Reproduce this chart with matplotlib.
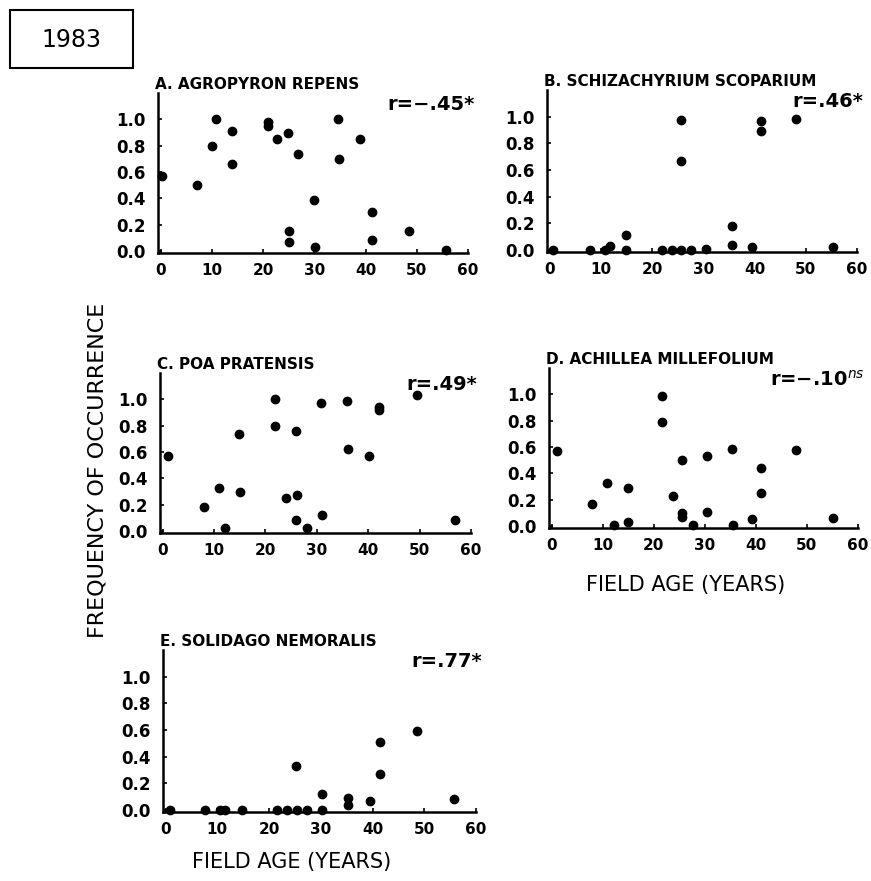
import matplotlib
matplotlib.use("Agg")
import matplotlib.pyplot as plt
from matplotlib.patches import Rectangle

# ---------------- data ----------------
a_age = [0.2, 7.2, 10.0, 10.9, 13.9, 14.0, 20.9, 20.9, 22.8, 24.9, 25.1, 25.1, 26.9, 30.0, 30.1, 34.7, 34.8, 39.0, 41.3, 41.3, 48.5, 55.7]
a_freq = [0.57, 0.50, 0.80, 1.00, 0.91, 0.66, 0.98, 0.95, 0.85, 0.90, 0.15, 0.07, 0.74, 0.39, 0.03, 1.00, 0.70, 0.85, 0.30, 0.08, 0.15, 0.01]

b_age = [0.6, 7.8, 10.9, 11.8, 14.9, 14.9, 21.9, 23.8, 25.6, 25.6, 25.6, 27.7, 30.6, 35.6, 35.6, 39.5, 41.2, 41.2, 48.0, 55.3]
b_freq = [0.0, 0.0, 0.0, 0.03, 0.11, 0.0, 0.0, 0.0, 0.975, 0.67, 0.0, 0.0, 0.01, 0.18, 0.04, 0.02, 0.97, 0.89, 0.98, 0.02]

c_age = [1.1, 8.1, 11.0, 12.2, 14.9, 15.0, 21.8, 21.8, 24.0, 25.9, 26.2, 26.0, 28.1, 30.8, 31.1, 35.9, 36.0, 40.2, 42.2, 42.2, 49.5, 56.9]
c_freq = [0.57, 0.18, 0.33, 0.025, 0.74, 0.30, 1.00, 0.80, 0.25, 0.76, 0.27, 0.08, 0.02, 0.97, 0.12, 0.99, 0.62, 0.57, 0.94, 0.92, 1.03, 0.08]

d_age = [1.0, 7.9, 10.8, 12.2, 14.9, 15.0, 21.6, 21.6, 23.7, 25.5, 25.6, 25.6, 27.7, 30.4, 30.5, 35.3, 35.5, 39.3, 41.1, 41.1, 47.9, 55.1]
d_freq = [0.57, 0.17, 0.33, 0.01, 0.29, 0.03, 0.99, 0.79, 0.23, 0.50, 0.10, 0.07, 0.01, 0.53, 0.11, 0.585, 0.01, 0.05, 0.44, 0.25, 0.58, 0.06]

e_age = [0.8, 7.7, 10.5, 11.4, 14.7, 21.5, 23.5, 25.3, 25.4, 27.3, 30.3, 30.3, 35.2, 35.2, 39.5, 41.5, 41.5, 48.5, 55.8]
e_freq = [0.0, 0.0, 0.0, 0.0, 0.0, 0.0, 0.0, 0.33, 0.0, 0.0, 0.12, 0.0, 0.09, 0.04, 0.07, 0.51, 0.27, 0.59, 0.08]

titles = ["A. AGROPYRON REPENS", "B. SCHIZACHYRIUM SCOPARIUM", "C. POA PRATENSIS",
          "D. ACHILLEA MILLEFOLIUM", "E. SOLIDAGO NEMORALIS"]
r_labels = ["r=\u2212.45*", "r=.46*", "r=.49*", "r=\u2212.10$^{ns}$", "r=.77*"]
x_ticks = [0, 10, 20, 30, 40, 50, 60]
y_ticks = [0.0, 0.2, 0.4, 0.6, 0.8, 1.0]

W, H = 871, 881
fig = plt.figure(figsize=(W / 100, H / 100), dpi=100)
fig.patch.set_facecolor("white")

def px_axes(left, right, bottom, top):
    return fig.add_axes([left / W, 1 - bottom / H, (right - left) / W, (bottom - top) / H])

boxes = [(158, 468, 253, 93), (547, 857, 252, 90), (160, 471, 533, 373),
         (549, 858, 528, 368), (163, 476, 812, 650)]
data = [(a_age, a_freq), (b_age, b_freq), (c_age, c_freq), (d_age, d_freq), (e_age, e_freq)]

for (l, r, b, t), (xs, ys), title, rl in zip(boxes, data, titles, r_labels):
    ax = px_axes(l, r, b, t)
    ax.scatter(xs, ys, s=36, color="black", zorder=3, clip_on=False)
    ax.set_xlim(-0.5, 60)
    ax.set_ylim(-0.015, 1.2)
    for s in ("top", "right"):
        ax.spines[s].set_visible(False)
    for s in ("left", "bottom"):
        ax.spines[s].set_linewidth(1.8)
    ax.set_xticks(x_ticks)
    ax.set_xticklabels([str(v) for v in x_ticks], fontsize=11, fontweight="bold")
    ax.set_yticks(y_ticks)
    ax.set_yticklabels(["%.1f" % v for v in y_ticks], fontsize=12, fontweight="bold")
    ax.tick_params(axis="x", direction="in", length=3, width=1.2, pad=7)
    ax.tick_params(axis="y", direction="in", length=3, width=1.2, pad=9)
    ax.set_title(title, loc="left", fontsize=11, fontweight="bold", pad=3, x=-0.01)
    ax.text(1.02, 0.93, rl, transform=ax.transAxes, ha="right", va="center",
            fontsize=14, fontweight="bold")

fig.text(98 / W, 1 - 470 / H, "FREQUENCY OF OCCURRENCE", rotation=90, ha="center",
         va="center", fontsize=16)
fig.text(686 / W, 1 - 585 / H, "FIELD AGE (YEARS)", ha="center", va="center", fontsize=15)
fig.text(292 / W, 1 - 862 / H, "FIELD AGE (YEARS)", ha="center", va="center", fontsize=15)

fig.patches.append(Rectangle((10 / W, 1 - 68 / H), 123 / W, 58 / H, transform=fig.transFigure,
                             fill=False, edgecolor="black", linewidth=1.5))
fig.text(71 / W, 1 - 40 / H, "1983", ha="center", va="center", fontsize=17)

fig.savefig("out.png", dpi=100, facecolor="white")
